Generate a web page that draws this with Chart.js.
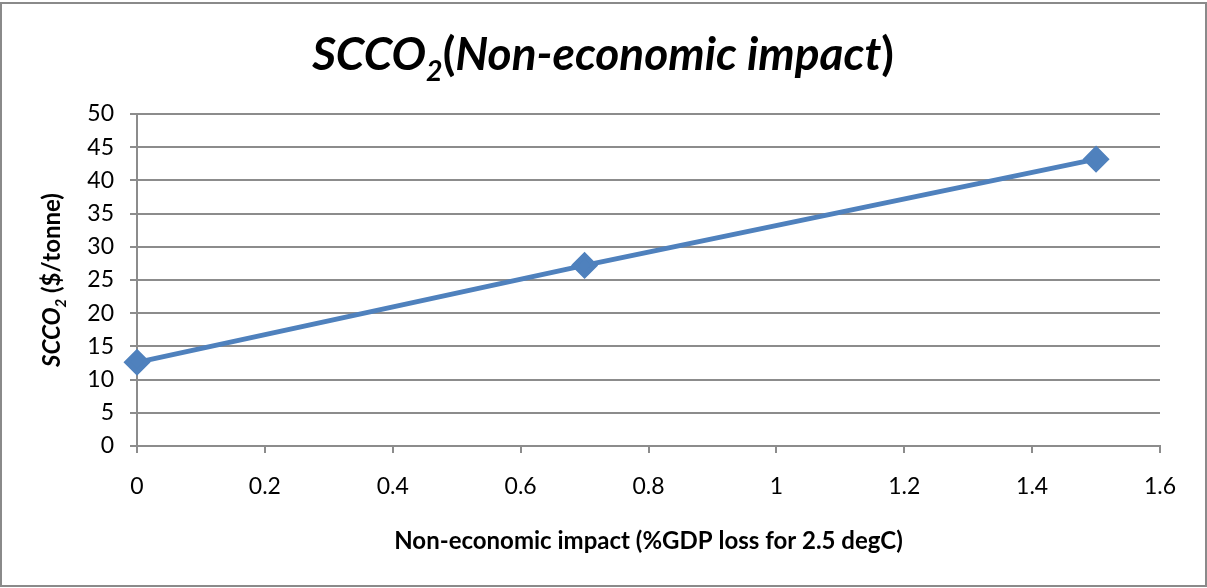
<!DOCTYPE html>
<html lang="en">
<head>
    <meta charset="UTF-8">
    <title>SCCO2 Non-economic impact</title>
    <script src="https://cdn.jsdelivr.net/npm/chart.js@4/dist/chart.umd.min.js"></script>
    <style>
        html, body { margin: 0; padding: 0; background: #fff; }
        #wrap { width: 1207px; height: 588px; position: relative; }
    </style>
</head>
<body>
<div id="wrap"><canvas id="chart"></canvas></div>

<script>
    // values
    const xImpact = [0, 0.7, 1.5];
    const yScco2 = [12.6, 27.2, 43.2];
    const xTicks = [0, 0.2, 0.4, 0.6, 0.8, 1, 1.2, 1.4, 1.6];
    const yTicks = [0, 5, 10, 15, 20, 25, 30, 35, 40, 45, 50];

    const FONT = 'Lato, "Open Sans", sans-serif';
    const BLUE = '#4f81bd';
    const GRID = '#8c8c8c';

    // draws a row of text pieces, each piece may be italic / subscript
    function drawPieces(ctx, pieces, size, cx, cy) {
        const fontOf = p => (p.italic ? 'italic ' : '') + 'bold ' + (p.sub ? size * 0.62 : size) + 'px ' + FONT;
        let total = 0;
        pieces.forEach(p => { ctx.font = fontOf(p); total += ctx.measureText(p.t).width; });
        let x = cx - total / 2;
        ctx.textBaseline = 'alphabetic';
        ctx.textAlign = 'left';
        pieces.forEach(p => {
            ctx.font = fontOf(p);
            ctx.fillText(p.t, x, cy + (p.sub ? size * 0.24 : 0));
            x += ctx.measureText(p.t).width;
        });
    }

    const labelsPlugin = {
        id: 'labels',
        beforeDraw(chart) {
            const ctx = chart.ctx;
            ctx.save();
            ctx.fillStyle = '#fff';
            ctx.fillRect(0, 0, chart.width, chart.height);
            ctx.strokeStyle = '#8a8a8a';
            ctx.lineWidth = 2;
            ctx.strokeRect(1, 3, 1205, 583);
            ctx.restore();
        },
        afterDraw(chart) {
            const ctx = chart.ctx;
            const area = chart.chartArea;
            ctx.save();
            ctx.fillStyle = '#000';
            drawPieces(ctx, [
                {t: 'SCCO', italic: true},
                {t: '2', italic: true, sub: true},
                {t: '('},
                {t: 'Non-economic impact', italic: true},
                {t: ')'}
            ], 46, 603, 70);

            drawPieces(ctx, [
                {t: 'Non-economic impact (%GDP loss for 2.5 degC)'}
            ], 24, (area.left + area.right) / 2, 549);

            ctx.translate(60, (area.top + area.bottom) / 2);
            ctx.rotate(-Math.PI / 2);
            drawPieces(ctx, [
                {t: 'SCCO', italic: true},
                {t: '2', italic: true, sub: true},
                {t: ' ($/tonne)'}
            ], 24, 0, 0);
            ctx.restore();
        }
    };

    const ctx = document.getElementById('chart').getContext('2d');
    const chart = new Chart(ctx, {
        type: 'line',
        data: {
            datasets: [{
                data: xImpact.map((x, i) => ({x: x, y: yScco2[i]})),
                borderColor: BLUE,
                backgroundColor: BLUE,
                borderWidth: 5,
                pointStyle: 'rectRot',
                pointRadius: 10,
                pointHoverRadius: 10,
                fill: false,
                tension: 0,
                clip: false
            }]
        },
        options: {
            responsive: true,
            maintainAspectRatio: false,
            animation: false,
            events: [],
            layout: { padding: { top: 114, right: 47, left: 0, bottom: 0 } },
            plugins: {
                legend: { display: false },
                title: { display: false },
                tooltip: { enabled: false }
            },
            scales: {
                x: {
                    type: 'linear',
                    min: 0,
                    max: 1.6,
                    afterFit: s => { s.height = 142; },
                    afterBuildTicks: s => { s.ticks = xTicks.map(v => ({value: v})); },
                    grid: { drawOnChartArea: false, color: GRID, lineWidth: 2, tickLength: 7 },
                    border: { color: GRID, width: 2 },
                    ticks: {
                        padding: 20,
                        maxRotation: 0,
                        color: '#000',
                        font: { family: FONT, size: 23 },
                        callback: v => String(v)
                    }
                },
                y: {
                    min: 0,
                    max: 50,
                    afterFit: s => { s.width = 137; },
                    afterBuildTicks: s => { s.ticks = yTicks.map(v => ({value: v})); },
                    grid: { color: GRID, lineWidth: 2, tickLength: 7 },
                    border: { color: GRID, width: 2 },
                    ticks: {
                        padding: 16,
                        color: '#000',
                        font: { family: FONT, size: 23 }
                    }
                }
            }
        },
        plugins: [labelsPlugin]
    });
</script>
</body>
</html>
